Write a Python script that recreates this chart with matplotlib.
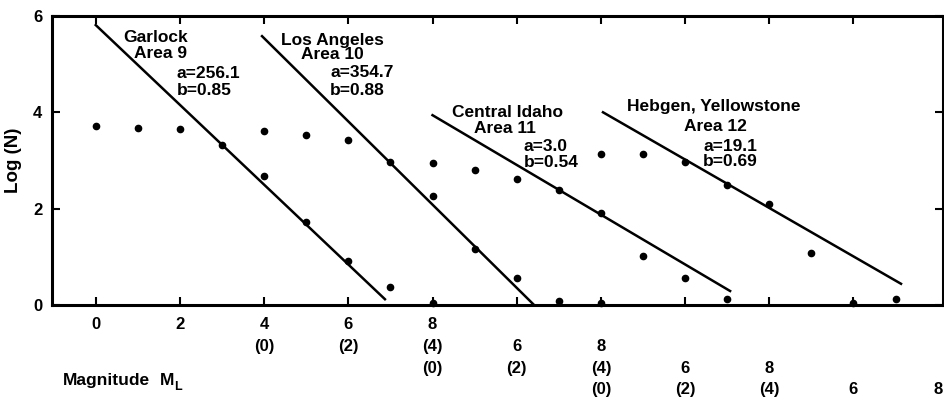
import matplotlib
matplotlib.use("Agg")
import matplotlib.pyplot as plt
import matplotlib.transforms as mtransforms

# log(N), magnitude counted from each area's own origin
garlock_mag = [0, 1, 2, 3, 4, 5, 6, 7, 8]
garlock_logn = [3.71, 3.68, 3.66, 3.33, 2.68, 1.72, 0.91, 0.37, 0.05]
la_mag = [0, 1, 2, 3, 4, 5, 6, 7, 8]
la_logn = [3.61, 3.53, 3.42, 2.97, 2.26, 1.16, 0.56, 0.09, 0.05]
idaho_mag = [0, 1, 2, 3, 4, 5, 6, 7]
idaho_logn = [2.95, 2.80, 2.61, 2.39, 1.91, 1.02, 0.56, 0.12]
hebgen_mag = [0, 1, 2, 3, 4, 5, 6, 7]
hebgen_logn = [3.13, 3.13, 2.97, 2.49, 2.09, 1.08, 0.05, 0.12]

# fitted lines (end points)
garlock_fit_mag = [0.0, 6.87]
garlock_fit_logn = [5.81, 0.12]
la_fit_mag = [-0.05, 6.39]
la_fit_logn = [5.58, 0.02]
idaho_fit_mag = [0.0, 7.07]
idaho_fit_logn = [3.94, 0.29]
hebgen_fit_mag = [0.05, 7.13]
hebgen_fit_logn = [4.00, 0.44]

# shift of each area along the common axis
offsets = [0, 4, 8, 12]
names = ["Garlock", "Los Angeles", "Central Idaho", "Hebgen, Yellowstone"]
areas = ["Area 9", "Area 10", "Area 11", "Area 12"]
a_vals = ["256.1", "354.7", "3.0", "19.1"]
b_vals = ["0.85", "0.88", "0.54", "0.69"]

# magnitude labels per row (first row has no brackets)
tick_mags = [0, 2, 4, 6, 8]
row_labels = [
    ["0", "2", "4", "6", "8"],
    ["(0)", "(2)", "(4)", "6", "8"],
    ["(0)", "(2)", "(4)", "6", "8"],
    ["(0)", "(2)", "(4)", "6", "8"],
]

plt.rcParams["font.family"] = ["Liberation Sans", "DejaVu Sans"]
plt.rcParams["font.weight"] = "bold"

fig = plt.figure(figsize=(9.45, 3.98), dpi=100)
ax = fig.add_axes([0.055, 0.2337, 0.943, 0.7263])

series = [
    (garlock_mag, garlock_logn, garlock_fit_mag, garlock_fit_logn),
    (la_mag, la_logn, la_fit_mag, la_fit_logn),
    (idaho_mag, idaho_logn, idaho_fit_mag, idaho_fit_logn),
    (hebgen_mag, hebgen_logn, hebgen_fit_mag, hebgen_fit_logn),
]
for off, (m, n, fm, fn) in zip(offsets, series):
    ax.plot([v + off for v in m], n, "o", color="black", markersize=4.5, clip_on=False, zorder=3)
    ax.plot([v + off for v in fm], fn, "-", color="black", linewidth=1.8)

ax.set_xlim(-1.04, 20.13)
ax.set_ylim(0, 6)

for s in ax.spines.values():
    s.set_linewidth(2.2)

ax.set_xticks(range(0, 20, 2))
ax.set_xticklabels([])
ax.set_yticks([0, 2, 4, 6])
ax.tick_params(axis="both", direction="in", length=6, width=1.5,
               top=True, right=True, labelsize=12)
ax.tick_params(axis="y", pad=7)
for lab in ax.get_yticklabels():
    lab.set_fontweight("bold")
ax.set_ylabel("Log (N)", fontsize=13.5, fontweight="bold", labelpad=8)

# staggered magnitude labels under the axis
trans = mtransforms.blended_transform_factory(ax.transData, ax.transAxes)
row_y = [-0.069, -0.145, -0.221, -0.294]
for off, labels, yy in zip(offsets, row_labels, row_y):
    for mag, lab in zip(tick_mags, labels):
        ax.text(mag + off, yy, lab, transform=trans, ha="center", va="center",
                fontsize=12, fontweight="bold", clip_on=False)

ax.text(0.012, -0.26, "Magnitude", transform=ax.transAxes,
        ha="left", va="center", fontsize=12.5, fontweight="bold")
ax.text(0.121, -0.26, "M", transform=ax.transAxes,
        ha="left", va="center", fontsize=12.5, fontweight="bold")
ax.text(0.137, -0.285, "L", transform=ax.transAxes,
        ha="left", va="center", fontsize=9, fontweight="bold")

# area annotations
name_pos = [(1.42, 5.56), (5.62, 5.50), (9.79, 4.00), (14.69, 4.11)]
area_pos = [(1.55, 5.23), (5.62, 5.19), (9.72, 3.67), (14.73, 3.71)]
ab_pos = [(1.93, 4.81, 4.46), (5.57, 4.83, 4.46), (10.17, 3.28, 2.95), (14.43, 3.28, 2.97)]
for nm, ar, a, b, npos, apos, abp in zip(names, areas, a_vals, b_vals, name_pos, area_pos, ab_pos):
    ax.text(npos[0], npos[1], nm, ha="center", va="center", fontsize=12.5, fontweight="bold")
    ax.text(apos[0], apos[1], ar, ha="center", va="center", fontsize=12.5, fontweight="bold")
    ax.text(abp[0], abp[1], "a=" + a, ha="left", va="center", fontsize=12.5, fontweight="bold")
    ax.text(abp[0], abp[2], "b=" + b, ha="left", va="center", fontsize=12.5, fontweight="bold")

fig.savefig("out.png", dpi=100)
